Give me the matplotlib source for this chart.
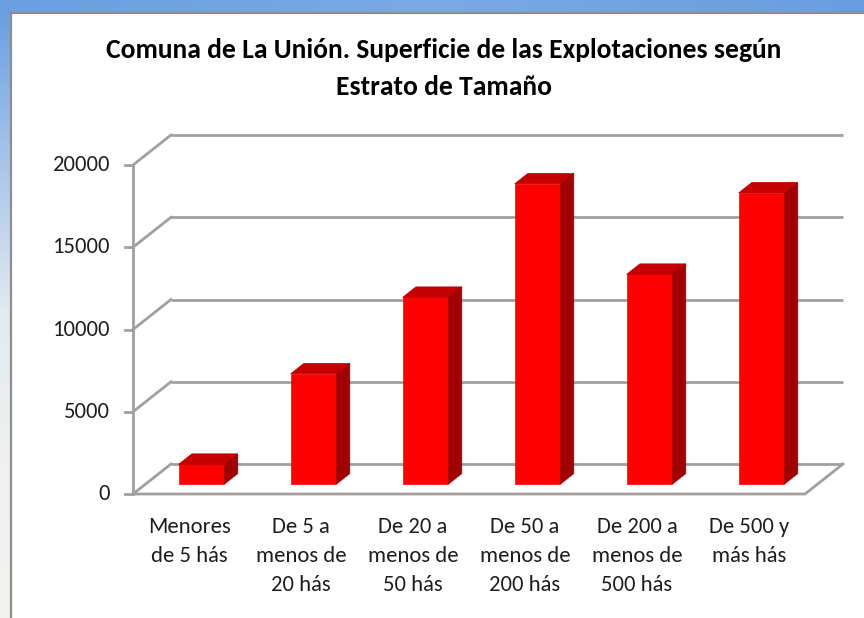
import numpy as np
import matplotlib
matplotlib.use("Agg")
import matplotlib.pyplot as plt
from matplotlib.patches import Polygon, Rectangle
from matplotlib import font_manager
from matplotlib.colors import LinearSegmentedColormap

# ---------------- data ----------------
categories = [
    ["Menores", "de 5 hás"],
    ["De 5 a", "menos de", "20 hás"],
    ["De 20 a", "menos de", "50 hás"],
    ["De 50 a", "menos de", "200 hás"],
    ["De 200 a", "menos de", "500 hás"],
    ["De 500 y", "más hás"],
]
values = [1200, 6700, 11350, 18250, 12750, 17700]
yticks = [0, 5000, 10000, 15000, 20000]
title_lines = ["Comuna de La Unión. Superficie de las Explotaciones según",
               "Estrato de Tamaño"]

# ---------------- fonts ----------------
avail = {f.name for f in font_manager.fontManager.ttflist}
FONT = "DejaVu Sans"
for cand in ["Carlito", "Liberation Sans Narrow", "Lato", "Roboto"]:
    if cand in avail:
        FONT = cand
        break
plt.rcParams["font.family"] = [FONT, "DejaVu Sans"]

W, H = 864, 618
fig = plt.figure(figsize=(W / 100, H / 100), dpi=100)
fig.patch.set_facecolor("white")

# ---------- window-frame background (screenshot edges) ----------
bg = fig.add_axes([0, 0, 1, 1], zorder=-10)
bg.set_xlim(0, W); bg.set_ylim(H, 0); bg.axis("off")
grad_top = np.linspace(0, 1, 256).reshape(1, -1)
cm_top = LinearSegmentedColormap.from_list("t", ["#6b9fe2", "#79aae6", "#6a9de0"])
bg.imshow(grad_top, extent=[0, W, 13, 0], aspect="auto", cmap=cm_top)
grad_left = np.linspace(0, 1, 256).reshape(-1, 1)
cm_left = LinearSegmentedColormap.from_list("l", ["#6b9fe2", "#a9c6ea", "#e4eaef", "#eef1f0", "#f3f4ef"])
bg.imshow(grad_left, extent=[0, 11, H, 13], aspect="auto", cmap=cm_left)
bg.add_patch(Rectangle((11, 13), W, H, facecolor="white", edgecolor="none"))
bg.plot([11, 11], [13, H], color="#8e8e8e", lw=1.6)
bg.plot([11, W], [13, 13], color="#8e8e8e", lw=1.6)

# ---------- plot axes (front plane mapping) ----------
PX_CAT = 112.0          # px per category
PX_VAL = 329.0 / 20000  # px per value unit
X0PX, Y0PX = 133.0, 494.0
xl = (-0.15, 6.45)
yl = (-700, 22500)
left = X0PX + xl[0] * PX_CAT
right = X0PX + xl[1] * PX_CAT
bottom = Y0PX - yl[0] * PX_VAL
top = Y0PX - yl[1] * PX_VAL
ax = fig.add_axes([left / W, 1 - bottom / H, (right - left) / W, (bottom - top) / H])
ax.set_xlim(*xl); ax.set_ylim(*yl); ax.axis("off")

DX = 38.0 / PX_CAT      # full depth offset in category units
DY = 30.0 / PX_VAL      # full depth offset in value units
n = len(values)
grid_c = "#a0a0a0"
glw = 2.0
txt_c = "#1e1e1e"

for t in yticks:
    ax.plot([DX, n + DX], [t + DY, t + DY], color=grid_c, lw=glw, zorder=1,
            solid_capstyle="butt")
    ax.plot([0, DX], [t, t + DY], color=grid_c, lw=glw, zorder=1)
ax.plot([0, n, n + DX], [0, 0, DY], color=grid_c, lw=glw, zorder=1)
ax.plot([0, 0], [0, yticks[-1]], color=grid_c, lw=glw, zorder=1)
for t in yticks:
    ax.plot([-8 / PX_CAT, 0], [t, t], color=grid_c, lw=glw, zorder=1)
    ax.text(-23 / PX_CAT, t, f"{t}", ha="right", va="center",
            fontsize=16.3, color=txt_c)

# bars
bw = 0.41
f0 = 0.33
d = 0.35
xs = np.arange(n) + 0.5 + f0 * DX
base = f0 * DY
ax.bar(xs, values, width=bw, bottom=base, color="#ff0000", edgecolor="#ff0000",
       lw=0.5, zorder=3)
for x, v in zip(xs, values):
    x0 = x - bw / 2
    x1 = x + bw / 2
    ytop = base + v
    topf = Polygon([(x0, ytop), (x1, ytop), (x1 + d * DX, ytop + d * DY),
                    (x0 + d * DX, ytop + d * DY)], closed=True,
                   facecolor="#c40000", edgecolor="#c40000", lw=0.5, zorder=3)
    side = Polygon([(x1, base), (x1 + d * DX, base + d * DY),
                    (x1 + d * DX, ytop + d * DY), (x1, ytop)], closed=True,
                   facecolor="#a00000", edgecolor="#a00000", lw=0.5, zorder=3)
    ax.add_patch(topf)
    ax.add_patch(side)

# category labels
line_px = [527, 556, 585]
for i, lines in enumerate(categories):
    for j, s in enumerate(lines):
        yv = (Y0PX - line_px[j]) / PX_VAL
        ax.text(i + 0.5, yv, s, ha="center", va="center", fontsize=16.3,
                color=txt_c, clip_on=False)

# title
fig.text(444 / W, 1 - 50 / H, title_lines[0], ha="center", va="center",
         fontsize=19.8, fontweight="bold", color="#000000")
fig.text(444 / W, 1 - 87 / H, title_lines[1], ha="center", va="center",
         fontsize=19.8, fontweight="bold", color="#000000")

fig.savefig("out.png", dpi=100, facecolor=fig.get_facecolor())
